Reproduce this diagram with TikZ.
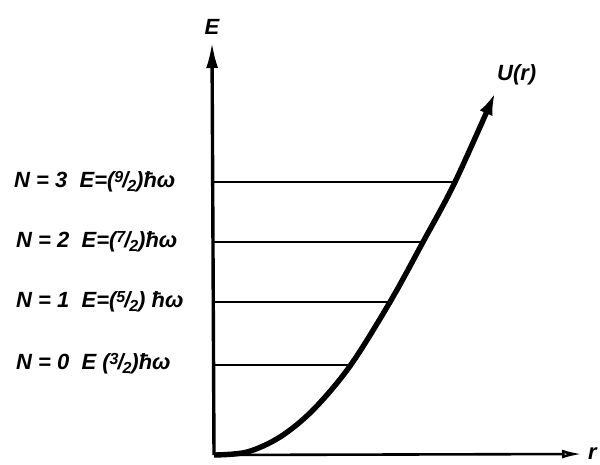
\documentclass[tikz,border=0pt]{standalone}
\usepackage{fontspec}
\newfontfamily\handfont{Liberation Sans}
\usetikzlibrary{arrows.meta,positioning}
\newcommand{\hfr}[2]{\raisebox{0.45ex}{\fontsize{16}{16}\selectfont #1}\kern-0.05em/\kern-0.05em\raisebox{-0.35ex}{\fontsize{16}{16}\selectfont #2}}
\tikzset{
  axis/.style={line width=3.4pt, -{Latex[length=26pt,width=12pt]}},
  raxis/.style={line width=2.6pt, -{Latex[open,length=20pt,width=9pt]}},
  potential/.style={line width=5.4pt, -{Latex[length=22pt,width=14pt]}},
  level/.style={line width=1.3pt},
  lbl/.style={font=\handfont\itshape\bfseries\fontsize{22}{26}\selectfont, inner sep=0pt}
}
\begin{document}
\begin{tikzpicture}[x=1pt,y=-1pt]
  \useasboundingbox (0,0) rectangle (600,464);
  % axes
  \coordinate (O) at (214,455);
  \coordinate (Etip) at (212,42);
  \coordinate (rtip) at (582,454);
  \draw[axis] (O) -- (Etip);
  \draw[raxis] (O) -- (rtip);
  \node[lbl, above=7pt of Etip] (Elab) {E};
  \node[lbl, right=6pt of rtip] (rlab) {r};

  % potential curve
  \coordinate (Utip) at (495,93);
  \draw[potential] plot[smooth, tension=0.55] coordinates
    {(214,455) (247,452) (280,437) (313,410) (350,366) (390,302) (423,242) (455,182) (495,93)};
  \node[lbl, above right=8pt and 2pt of Utip] (Ulab) {U(r)};

  % energy levels
  \coordinate (L3) at (214,182);  \coordinate (C3) at (455,182);
  \coordinate (L2) at (214,242);  \coordinate (C2) at (423,242);
  \coordinate (L1) at (214,302);  \coordinate (C1) at (390,302);
  \coordinate (L0) at (214,365);  \coordinate (C0) at (350,365);
  \draw[level] (L3) -- (C3);
  \draw[level] (L2) -- (C2);
  \draw[level] (L1) -- (C1);
  \draw[level] (L0) -- (C0);

  \node[lbl, anchor=west] (N3) at (14,182) {N = 3\ \ E=(\hfr{9}{2})ħω};
  \node[lbl, anchor=west] (N2) at (16,242) {N = 2\ \ E=(\hfr{7}{2})ħω};
  \node[lbl, anchor=west] (N1) at (16,302) {N = 1\ \ E=(\hfr{5}{2}) ħω};
  \node[lbl, anchor=west] (N0) at (16,364) {N = 0\ \ E (\hfr{3}{2})ħω};
\end{tikzpicture}
\end{document}
